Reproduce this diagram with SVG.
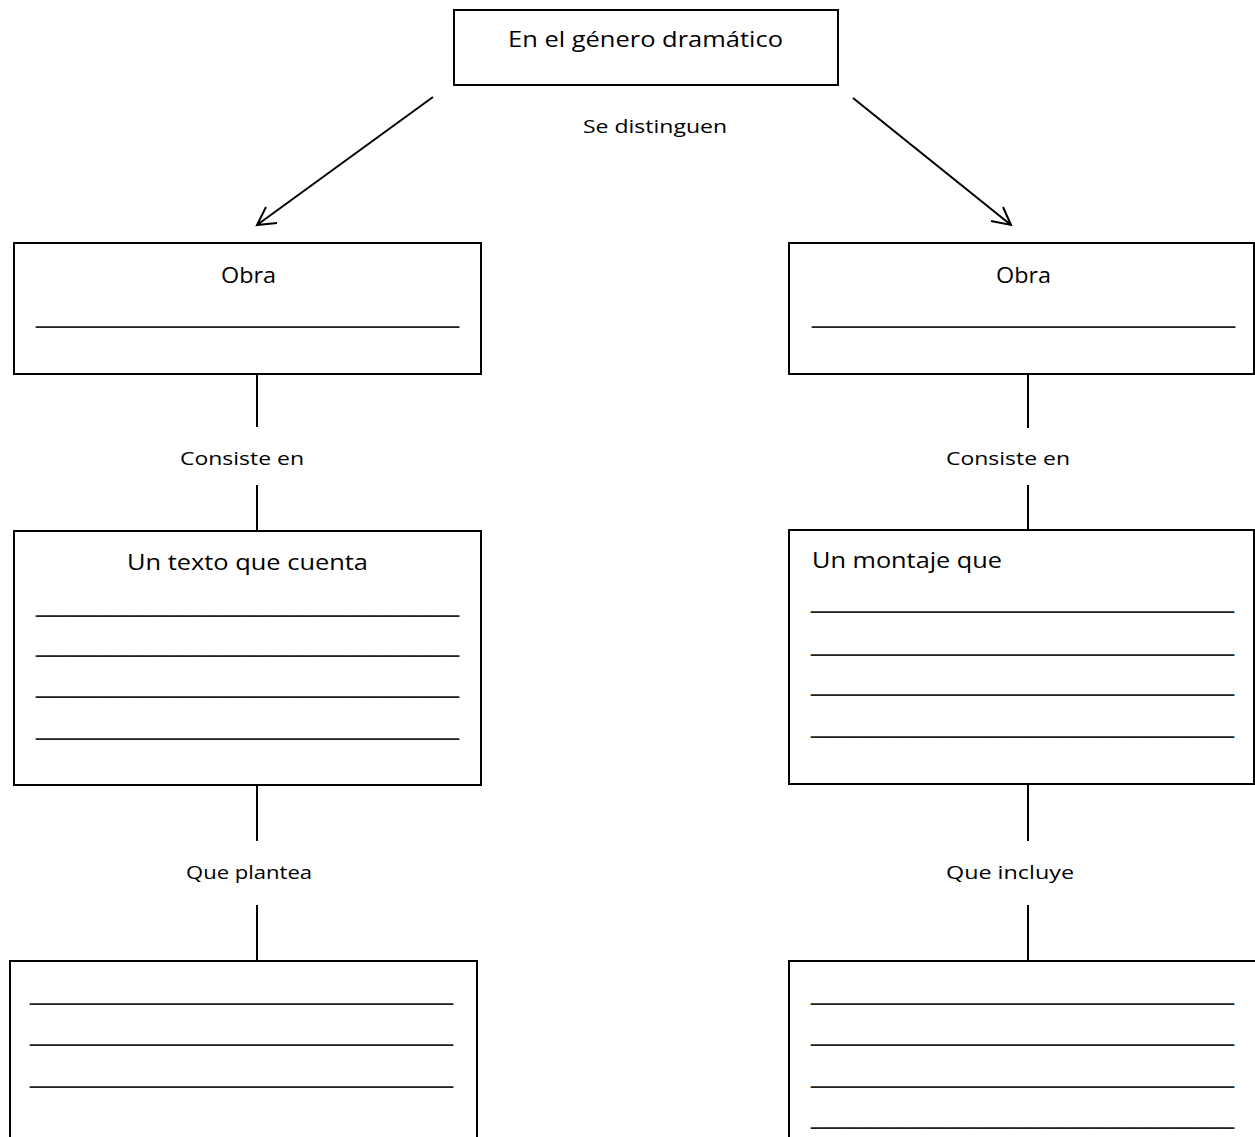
<svg xmlns="http://www.w3.org/2000/svg" width="1255" height="1137" viewBox="0 0 1255 1137">
<style>
.box{fill:#fff;stroke:#000;stroke-width:2}
.con{stroke:#000;stroke-width:2;fill:none}
.lbl{font-family:"Open Sans","Liberation Sans",sans-serif;font-size:22px;fill:#000}
.sm{font-family:"Open Sans","Liberation Sans",sans-serif;font-size:19px;fill:#000}
.ul{font-family:"Liberation Sans",Arial,sans-serif;font-size:26px;fill:#222}
</style>
<rect width="1255" height="1137" fill="#fff"/>
<g id="connectors">
<path class="con" d="M433 97 L257 225 M266 207 L257 225 L277 223"/>
<path class="con" d="M853 98 L1011 225 M1003 207 L1011 225 L991 221"/>
<line class="con" x1="257" y1="374" x2="257" y2="427"/>
<line class="con" x1="257" y1="485" x2="257" y2="531"/>
<line class="con" x1="1028" y1="374" x2="1028" y2="428"/>
<line class="con" x1="1028" y1="485" x2="1028" y2="530"/>
<line class="con" x1="257" y1="785" x2="257" y2="841"/>
<line class="con" x1="257" y1="905" x2="257" y2="961"/>
<line class="con" x1="1028" y1="784" x2="1028" y2="841"/>
<line class="con" x1="1028" y1="905" x2="1028" y2="961"/>
<text class="sm" x="655" y="133" text-anchor="middle" textLength="144" lengthAdjust="spacingAndGlyphs">Se distinguen</text>
<text class="sm" x="242" y="465" text-anchor="middle" textLength="124" lengthAdjust="spacingAndGlyphs">Consiste en</text>
<text class="sm" x="1008" y="465" text-anchor="middle" textLength="124" lengthAdjust="spacingAndGlyphs">Consiste en</text>
<text class="sm" x="249" y="879" text-anchor="middle" textLength="126" lengthAdjust="spacingAndGlyphs">Que plantea</text>
<text class="sm" x="1010" y="879" text-anchor="middle" textLength="128" lengthAdjust="spacingAndGlyphs">Que incluye</text>
</g>
<g id="node-genero">
<rect class="box" x="454" y="10" width="384" height="75"/>
<text class="lbl" x="508" y="47" textLength="275" lengthAdjust="spacingAndGlyphs">En el género dramático</text>
</g>
<g id="node-obra-left">
<rect class="box" x="14" y="243" width="467" height="131"/>
<text class="lbl" x="221" y="283" textLength="55" lengthAdjust="spacingAndGlyphs">Obra</text>
<text class="ul" x="36" y="322.6" textLength="423" lengthAdjust="spacingAndGlyphs">_____________________________</text>
</g>
<g id="node-obra-right">
<rect class="box" x="789" y="243" width="465" height="131"/>
<text class="lbl" x="996" y="283" textLength="55" lengthAdjust="spacingAndGlyphs">Obra</text>
<text class="ul" x="812" y="322.6" textLength="423" lengthAdjust="spacingAndGlyphs">_____________________________</text>
</g>
<g id="node-texto">
<rect class="box" x="14" y="531" width="467" height="254"/>
<text class="lbl" x="127" y="570" textLength="241" lengthAdjust="spacingAndGlyphs">Un texto que cuenta</text>
<text class="ul" x="36" y="611.6" textLength="423" lengthAdjust="spacingAndGlyphs">_____________________________</text>
<text class="ul" x="36" y="651.6" textLength="423" lengthAdjust="spacingAndGlyphs">_____________________________</text>
<text class="ul" x="36" y="692.6" textLength="423" lengthAdjust="spacingAndGlyphs">_____________________________</text>
<text class="ul" x="36" y="734.6" textLength="423" lengthAdjust="spacingAndGlyphs">_____________________________</text>
</g>
<g id="node-montaje">
<rect class="box" x="789" y="530" width="465" height="254"/>
<text class="lbl" x="812" y="568" textLength="190" lengthAdjust="spacingAndGlyphs">Un montaje que</text>
<text class="ul" x="811" y="607.6" textLength="423" lengthAdjust="spacingAndGlyphs">_____________________________</text>
<text class="ul" x="811" y="650.6" textLength="423" lengthAdjust="spacingAndGlyphs">_____________________________</text>
<text class="ul" x="811" y="690.6" textLength="423" lengthAdjust="spacingAndGlyphs">_____________________________</text>
<text class="ul" x="811" y="732.6" textLength="423" lengthAdjust="spacingAndGlyphs">_____________________________</text>
</g>
<g id="node-plantea">
<rect class="box" x="10" y="961" width="467" height="200"/>
<text class="ul" x="30" y="999.6" textLength="423" lengthAdjust="spacingAndGlyphs">_____________________________</text>
<text class="ul" x="30" y="1040.6" textLength="423" lengthAdjust="spacingAndGlyphs">_____________________________</text>
<text class="ul" x="30" y="1082.6" textLength="423" lengthAdjust="spacingAndGlyphs">_____________________________</text>
</g>
<g id="node-incluye">
<rect class="box" x="789" y="961" width="470" height="200"/>
<text class="ul" x="811" y="999.6" textLength="423" lengthAdjust="spacingAndGlyphs">_____________________________</text>
<text class="ul" x="811" y="1040.6" textLength="423" lengthAdjust="spacingAndGlyphs">_____________________________</text>
<text class="ul" x="811" y="1082.6" textLength="423" lengthAdjust="spacingAndGlyphs">_____________________________</text>
<text class="ul" x="811" y="1123.6" textLength="423" lengthAdjust="spacingAndGlyphs">_____________________________</text>
</g>
</svg>
